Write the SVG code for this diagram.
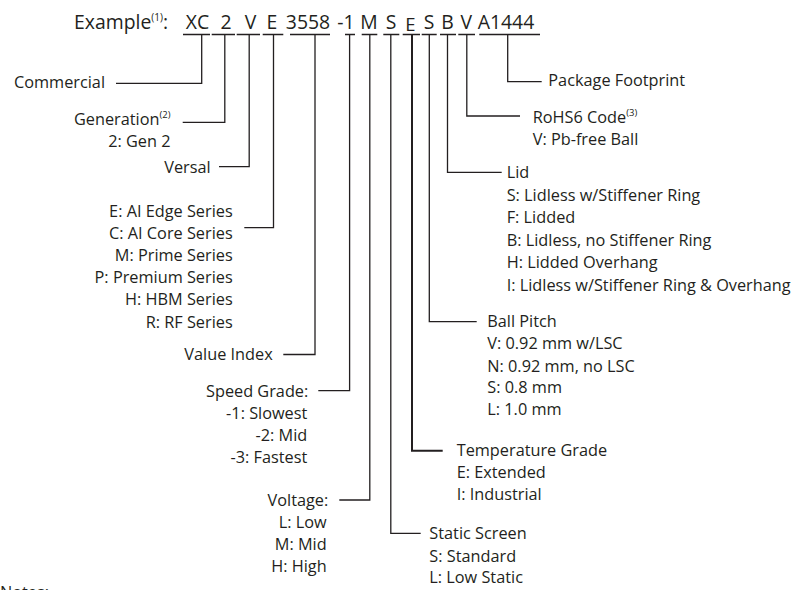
<svg xmlns="http://www.w3.org/2000/svg" width="799" height="590" viewBox="0 0 799 590">
<style>
text{font-family:"Open Sans","Noto Sans","Liberation Sans",sans-serif;fill:#231f20;font-size:16.3px}
.h{font-size:19.4px}
.hs{font-size:18.5px}
.sup{font-size:9.5px}
.sup1{font-size:10px}
.e{text-anchor:end}
.m{text-anchor:middle}
.ln{fill:none;stroke:#231f20;stroke-width:1.3}
.thick{stroke-width:2}
</style>
<rect width="799" height="590" fill="#ffffff"/>
<g id="header">
<text class="h" x="74" y="29">Example<tspan class="sup1" dy="-8">(1)</tspan><tspan dy="8">:</tspan></text>
<text class="h m" x="197.5" y="29">XC</text>
<text class="h m" x="226" y="29">2</text>
<text class="h m" x="250.5" y="29">V</text>
<text class="h m" x="272" y="29">E</text>
<text class="h m" x="308" y="29">3558</text>
<text class="h m" x="346" y="29">-1</text>
<text class="h m" x="369" y="29">M</text>
<text class="h m" x="391" y="29">S</text>
<text class="hs m" x="410.5" y="31">E</text>
<text class="h m" x="429" y="29">S</text>
<text class="h m" x="447.5" y="29">B</text>
<text class="h m" x="466.3" y="29">V</text>
<text class="h m" x="506" y="29">A1444</text>
</g>
<g id="connectors">
<path class="ln" d="M183 34.5H210M211.7 34.5H235M236.7 34.5H260M262.7 34.5H283.3M290 34.5H330M345 34.5H355M361.7 34.5H377.3M383.3 34.5H399.3M402.7 34.5H420M421.7 34.5H436.7M440 34.5H456M458.3 34.5H475M479.3 34.5H540"/>
<path class="ln" d="M201.7 34.5V83.3H116"/>
<path class="ln" d="M224.8 34.5V122.3H182.7"/>
<path class="ln" d="M249.2 34.5V166.7H219"/>
<path class="ln" d="M273.5 34.5V227.7H244.3"/>
<path class="ln" d="M315 34.5V354.5H283.3"/>
<path class="ln" d="M349.6 34.5V390.7H318.3"/>
<path class="ln" d="M369.8 34.5V500H339.3"/>
<path class="ln" d="M390.8 34.5V533.3H420.7"/>
<path class="ln thick" d="M412 34.5V450.7H442.7"/>
<path class="ln" d="M429.3 34.5V321.7H476.7"/>
<path class="ln" d="M447.5 34.5V172.3H501.7"/>
<path class="ln" d="M466.8 34.5V116H520"/>
<path class="ln" d="M507.7 34.5V81.7H541.7"/>
</g>
<g id="commercial"><text class="e" x="105" y="88">Commercial</text></g>
<g id="generation">
<text class="e" x="170.5" y="125">Generation<tspan class="sup" dy="-7">(2)</tspan></text>
<text class="e" x="170.5" y="146.7">2: Gen 2</text>
</g>
<g id="versal"><text class="e" x="210.7" y="173">Versal</text></g>
<g id="series">
<text class="e" x="232.7" y="216.7">E: AI Edge Series</text>
<text class="e" x="232.7" y="238.7">C: AI Core Series</text>
<text class="e" x="232.7" y="260.8">M: Prime Series</text>
<text class="e" x="232.7" y="283">P: Premium Series</text>
<text class="e" x="232.7" y="305.2">H: HBM Series</text>
<text class="e" x="232.7" y="327.5">R: RF Series</text>
</g>
<g id="value-index"><text class="e" x="272.7" y="359.5">Value Index</text></g>
<g id="speed-grade">
<text class="e" x="308.3" y="396.5">Speed Grade:</text>
<text class="e" x="307.3" y="418.5">-1: Slowest</text>
<text class="e" x="307.3" y="440.6">-2: Mid</text>
<text class="e" x="307.3" y="462.7">-3: Fastest</text>
</g>
<g id="voltage">
<text class="e" x="328.3" y="505.7">Voltage:</text>
<text class="e" x="326.7" y="527.5">L: Low</text>
<text class="e" x="326.7" y="549.5">M: Mid</text>
<text class="e" x="326.7" y="571.7">H: High</text>
</g>
<g id="package-footprint"><text x="548.3" y="86">Package Footprint</text></g>
<g id="rohs6">
<text x="532.7" y="122.7">RoHS6 Code<tspan class="sup" dy="-7">(3)</tspan></text>
<text x="532.7" y="145">V: Pb-free Ball</text>
</g>
<g id="lid">
<text x="506.7" y="178.3">Lid</text>
<text x="506.7" y="200.7">S: Lidless w/Stiffener Ring</text>
<text x="506.7" y="223.2">F: Lidded</text>
<text x="506.7" y="245.8">B: Lidless, no Stiffener Ring</text>
<text x="506.7" y="268.2">H: Lidded Overhang</text>
<text x="506.7" y="290.7">I: Lidless w/Stiffener Ring &amp; Overhang</text>
</g>
<g id="ball-pitch">
<text x="487.3" y="326.7">Ball Pitch</text>
<text x="487.3" y="349.2">V: 0.92 mm w/LSC</text>
<text x="487.3" y="371.5">N: 0.92 mm, no LSC</text>
<text x="487.3" y="393.3">S: 0.8 mm</text>
<text x="487.3" y="415">L: 1.0 mm</text>
</g>
<g id="temperature-grade">
<text x="456.7" y="456">Temperature Grade</text>
<text x="456.7" y="477.8">E: Extended</text>
<text x="456.7" y="500">I: Industrial</text>
</g>
<g id="static-screen">
<text x="429.3" y="539.3">Static Screen</text>
<text x="429.3" y="561.5">S: Standard</text>
<text x="429.3" y="583.3">L: Low Static</text>
</g>
<g id="notes"><text x="0" y="598">Notes:</text></g>
</svg>
